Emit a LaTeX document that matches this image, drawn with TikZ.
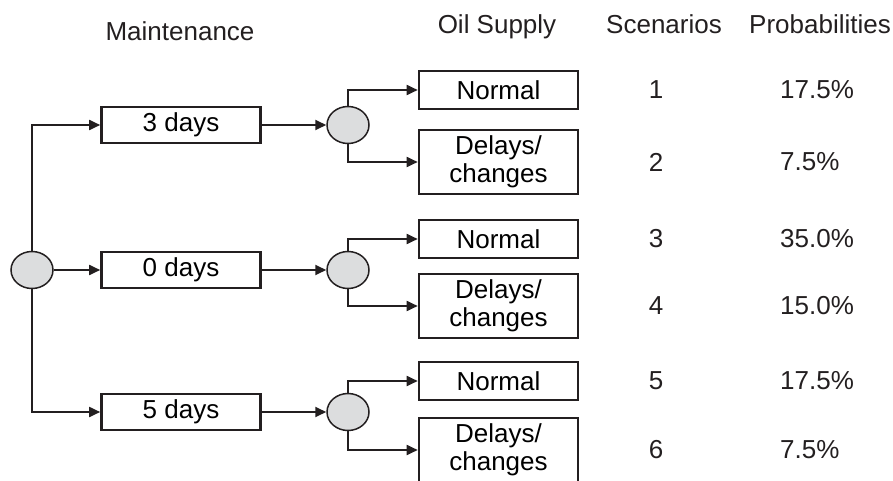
\documentclass[tikz,border=0pt]{standalone}
\usepackage{fontspec}
\setmainfont{Liberation Sans}
\usetikzlibrary{shapes.geometric, arrows.meta}
\definecolor{NodeGray}{HTML}{DCDDDE}
\definecolor{InkBlack}{HTML}{231F20}

\tikzset{
  chance/.style={ellipse, draw=InkBlack, fill=NodeGray, line width=1.5pt,
    minimum width=42pt, minimum height=37pt, inner sep=0pt},
  optbox/.style={draw=InkBlack, line width=2.6pt, minimum width=159pt,
    inner sep=0pt, align=center, font=\fontsize{26}{28}\selectfont},
  label/.style={font=\fontsize{26}{28}\selectfont, text=InkBlack, inner sep=0pt},
  link/.style={InkBlack, line width=1.8pt, -{Triangle[length=11pt, width=10pt]}}
}

\begin{document}
\begin{tikzpicture}[x=1pt, y=-1pt]
                \useasboundingbox (0,0) rectangle (893,481);
                \clip (0,0) rectangle (893,481);
                % column headers
                \node[label, anchor=base] (hmain) at (180,41) {Maintenance};
                \node[label, anchor=base] (hoil) at (497,34) {Oil Supply};
                \node[label, anchor=base] (hscen) at (664,34) {Scenarios};
                \node[label, anchor=base] (hprob) at (820,34) {Probabilities};
                \node[chance] (root) at (32,270) {};
                \foreach \g/\yy/\yn/\yd/\dd/\sa/\sb/\pa/\pb in
                    {a/125/90/162/3/1/2/17.5/7.5,
                     b/270/239/306/0/3/4/35.0/15.0,
                     c/412/381/450/5/5/6/17.5/7.5} {
                    \node[optbox, minimum height=36pt] (m-\g) at (181,\yy) {\dd{} days};
                    \node[chance] (c-\g) at (348,\yy) {};
                    \node[optbox, minimum height=38pt] (n-\g) at (498.5,\yn) {Normal};
                    \node[optbox, minimum height=64pt] (d-\g) at (498.5,\yd) {Delays/\\changes};
                    \node[label] (s1-\g) at (656,\yn) {\sa};
                    \node[label] (s2-\g) at (656,\yd) {\sb};
                    \node[label, anchor=west] (p1-\g) at (780,\yn) {\pa\%};
                    \node[label, anchor=west] (p2-\g) at (780,\yd) {\pb\%};
                    \draw[link] (m-\g) -- (c-\g);
                    \draw[link] (c-\g.north) |- (n-\g.west);
                    \draw[link] (c-\g.south) |- (d-\g.west);
                }
                \draw[link] (root.north) |- (m-a.west);
                \draw[link] (root) -- (m-b);
                \draw[link] (root.south) |- (m-c.west);
            \end{tikzpicture}
\end{document}
